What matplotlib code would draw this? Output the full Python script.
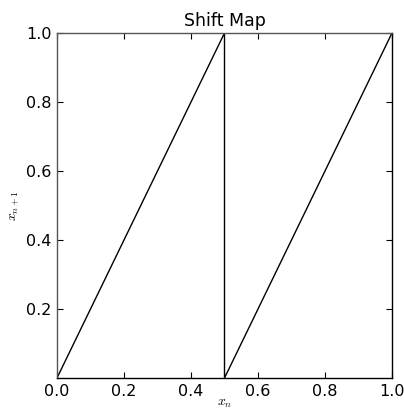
import numpy as np
import matplotlib.pyplot as plt

plt.rcParams['mathtext.fontset'] = 'cm'

# Shift map x_{n+1} = 2 x_n mod 1, drawn through its breakpoints
x_vals = [0.0, 0.5, 0.5, 1.0]
y_vals = [0.0, 1.0, 0.0, 1.0]
xticks = [0.0, 0.2, 0.4, 0.6, 0.8, 1.0]
yticks = [0.2, 0.4, 0.6, 0.8, 1.0]

fig = plt.figure(figsize=(4.04, 4.11), dpi=100)
ax = fig.add_axes([57 / 404, 1 - 378 / 411, 335 / 404, 345 / 411])

ax.plot(x_vals, y_vals, color='black', linewidth=1.0)

ax.set_xlim(0, 1)
ax.set_ylim(0, 1)
ax.set_xticks(xticks)
ax.set_yticks(yticks)
ax.tick_params(direction='in', length=4, width=0.8, top=True, right=True,
               labelsize=11.5, pad=4)

ax.spines['left'].set_color('#555555')
ax.spines['top'].set_color('#555555')
for side in ['bottom', 'right']:
    ax.spines[side].set_color('black')
for s in ax.spines.values():
    s.set_linewidth(1.0)

ax.set_title('Shift Map', fontsize=12.5, pad=5)
ax.set_xlabel(r'$x_n$', fontsize=10, labelpad=-2)
ax.set_ylabel(r'$x_{n+1}$', fontsize=10, labelpad=3)

fig.savefig('out.png', dpi=100)
